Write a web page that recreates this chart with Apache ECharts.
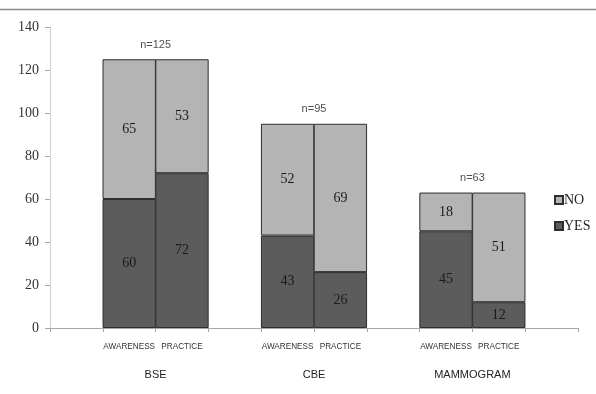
<!DOCTYPE html>
<html>
<head>
<meta charset="utf-8">
<script src="https://cdn.jsdelivr.net/npm/echarts@6/dist/echarts.min.js"></script>
<style>
  html, body { margin: 0; padding: 0; background: #fff; }
  #chart { width: 596px; height: 394px; }
</style>
</head>
<body>
<div id="chart"></div>
<script>
// Slots along the axis: an empty slot separates each pair of bars
const barLabels = ['', 'AWARENESS', 'PRACTICE', '', 'AWARENESS', 'PRACTICE', '', 'AWARENESS', 'PRACTICE', ''];
const yesValues = [null, 60, 72, null, 43, 26, null, 45, 12, null];
const noValues  = [null, 65, 53, null, 52, 69, null, 18, 51, null];

// Groups: name, sample size, and the slot boundary at the centre of each pair
const groupNames = ['BSE', 'CBE', 'MAMMOGRAM'];
const groupTotals = [125, 95, 63];
const groupCentres = [2, 5, 8];

const yTicks = { min: 0, max: 140, interval: 20 };

const chart = echarts.init(document.getElementById('chart'), null, { renderer: 'canvas' });

const serif = 'Liberation Serif, Times New Roman, serif';
const sans = 'Liberation Sans, Arial, sans-serif';

const groupNameAt = {};
groupCentres.forEach((c, i) => { groupNameAt[c] = groupNames[i]; });

chart.setOption({
  animation: false,
  backgroundColor: '#ffffff',
  graphic: [{
    type: 'line',
    shape: { x1: 0, y1: 9.5, x2: 596, y2: 9.5 },
    style: { stroke: '#8a8a8a', lineWidth: 1.6 }
  }],
  grid: { left: 50, right: 18, top: 27, bottom: 66 },
  legend: {
    data: ['NO', 'YES'],
    orient: 'vertical',
    left: 549,
    top: 188,
    itemWidth: 8,
    itemHeight: 8,
    itemGap: 12,
    icon: 'rect',
    textStyle: { fontFamily: serif, fontSize: 14, color: '#222', padding: [0, 0, 0, -4] }
  },
  xAxis: [{
    type: 'category',
    data: barLabels,
    boundaryGap: true,
    axisLine: { lineStyle: { color: '#a6a6a6', width: 1 } },
    axisTick: { show: true, interval: 0, length: 4, lineStyle: { color: '#a6a6a6' } },
    axisLabel: { interval: 0, margin: 15, fontFamily: sans, fontSize: 8.2, color: '#333' },
    splitLine: { show: false }
  }, {
    type: 'value',
    min: 0,
    max: barLabels.length,
    interval: 1,
    position: 'bottom',
    show: true,
    axisLine: { show: false },
    axisTick: { show: false },
    splitLine: { show: false },
    axisLabel: {
      margin: 41,
      fontFamily: sans,
      fontSize: 11,
      color: '#222',
      formatter: v => groupNameAt[v] || ''
    }
  }],
  yAxis: {
    type: 'value',
    min: yTicks.min,
    max: yTicks.max,
    interval: yTicks.interval,
    axisLine: { show: true, lineStyle: { color: '#d0d0d0', width: 1 } },
    axisTick: { show: true, length: 5, lineStyle: { color: '#a6a6a6' } },
    axisLabel: { margin: 11, fontFamily: serif, fontSize: 14, color: '#333' },
    splitLine: { show: false }
  },
  series: [{
    name: 'YES',
    type: 'bar',
    stack: 'total',
    data: yesValues,
    barWidth: '101%',
    itemStyle: { color: '#5c5c5c', borderColor: '#2e2e2e', borderWidth: 1 },
    label: { show: true, position: 'inside', fontFamily: serif, fontSize: 14, color: '#1a1a1a' }
  }, {
    name: 'NO',
    type: 'bar',
    stack: 'total',
    data: noValues,
    barWidth: '101%',
    itemStyle: { color: '#b4b4b4', borderColor: '#2e2e2e', borderWidth: 1 },
    label: { show: true, position: 'inside', fontFamily: serif, fontSize: 14, color: '#1a1a1a' }
  }, {
    name: 'n',
    type: 'scatter',
    xAxisIndex: 1,
    symbolSize: 0,
    silent: true,
    data: groupCentres.map((c, i) => [c, groupTotals[i]]),
    label: {
      show: true,
      position: 'top',
      distance: 9,
      fontFamily: sans,
      fontSize: 11,
      color: '#222',
      formatter: p => 'n=' + p.value[1]
    }
  }]
});
</script>
</body>
</html>
